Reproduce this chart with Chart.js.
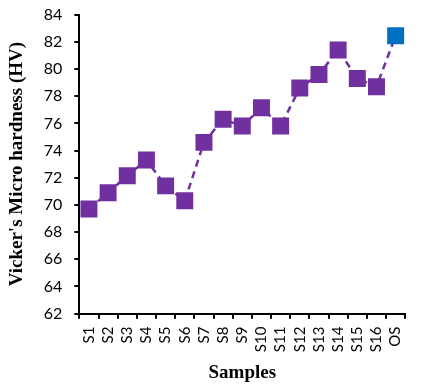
<!DOCTYPE html>
<html>
<head>
<meta charset="utf-8">
<script src="https://cdn.jsdelivr.net/npm/chart.js@4"></script>
<style>
  html, body { margin: 0; padding: 0; background: #fff; }
  #wrap { width: 422px; height: 390px; }
</style>
</head>
<body>
<div id="wrap"><canvas id="hardnessChart" width="422" height="390"></canvas></div>
<script>
// sample labels and hardness readings
const samples = ['S1', 'S2', 'S3', 'S4', 'S5', 'S6', 'S7', 'S8', 'S9', 'S10', 'S11', 'S12', 'S13', 'S14', 'S15', 'S16', 'OS'];
const hardness = [69.7, 70.9, 72.15, 73.3, 71.4, 70.3, 74.6, 76.3, 75.8, 77.15, 75.8, 78.6, 79.6, 81.4, 79.3, 78.7, 82.45];
const yTicks = { min: 62, max: 84, step: 2 };

const purple = '#7030A0';
const blue = '#0070C0';
const pointColors = samples.map(s => s === 'OS' ? blue : purple);

const ctx = document.getElementById('hardnessChart').getContext('2d');
new Chart(ctx, {
  type: 'line',
  data: {
    labels: samples,
    datasets: [{
      data: hardness,
      borderColor: purple,
      borderWidth: 2.5,
      borderDash: [7, 5],
      pointStyle: 'rect',
      pointRadius: 12,
      pointHoverRadius: 12,
      pointBackgroundColor: pointColors,
      pointBorderColor: pointColors,
      pointBorderWidth: 0,
      tension: 0
    }]
  },
  options: {
    responsive: false,
    animation: false,
    layout: { padding: { top: 0, right: 8, left: 4, bottom: 4 } },
    plugins: {
      legend: { display: false },
      tooltip: { enabled: false }
    },
    scales: {
      x: {
        offset: true,
        grid: { offset: true, drawOnChartArea: false, color: '#000', tickLength: 5, lineWidth: 2 },
        border: { color: '#000', width: 2 },
        ticks: {
          color: '#000',
          font: { family: 'Lato', size: 15 },
          minRotation: 90,
          maxRotation: 90,
          autoSkip: false,
          padding: 8
        },
        title: {
          display: true,
          text: 'Samples',
          color: '#000',
          font: { family: 'Liberation Serif', size: 19, weight: 'bold' },
          padding: { top: 1, bottom: 2 }
        }
      },
      y: {
        min: yTicks.min,
        max: yTicks.max,
        grid: { drawOnChartArea: false, color: '#000', tickLength: 5, lineWidth: 2 },
        border: { color: '#000', width: 2 },
        ticks: {
          stepSize: yTicks.step,
          color: '#000',
          font: { family: 'Lato', size: 16 },
          padding: 12
        },
        title: {
          display: true,
          text: "Vicker's Micro hardness (HV)",
          color: '#000',
          font: { family: 'Liberation Serif', size: 19, weight: 'bold' },
          padding: { top: 2, bottom: 3 }
        },
        // keep the top of the plot near the "84" label, not pushed down by tick padding
        afterFit: scale => { scale.paddingTop = 14.6; }
      }
    }
  }
});
</script>
</body>
</html>
